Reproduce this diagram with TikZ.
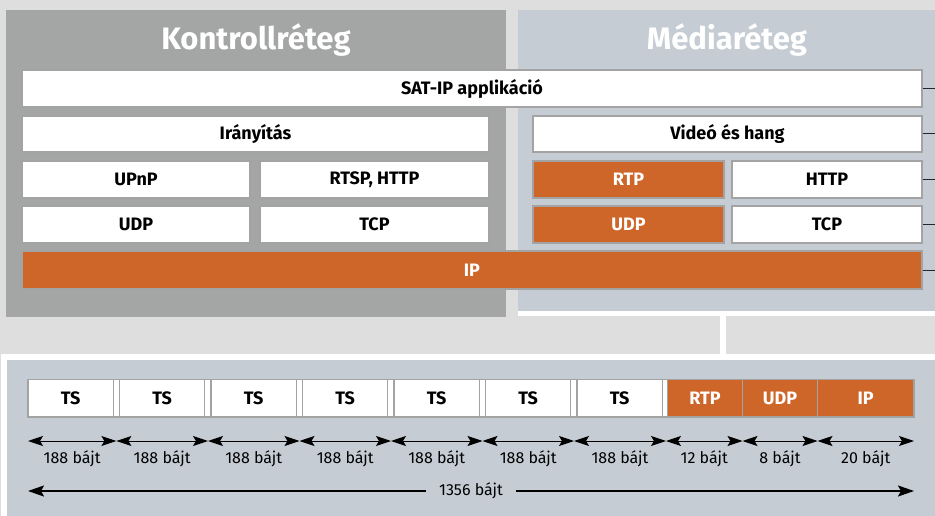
\documentclass[tikz,border=0pt]{standalone}
\usepackage{fontspec}
\setmainfont{Fira Sans}
\usetikzlibrary{arrows.meta}
\definecolor{bgc}{HTML}{DEDEDE}
\definecolor{ctrl}{HTML}{A4A6A5}
\definecolor{media}{HTML}{C5CCD4}
\definecolor{orng}{HTML}{CD6628}
\definecolor{bord}{HTML}{A3A3A3}
\begin{document}
\begin{tikzpicture}[x=1pt,y=-1pt,
  box/.style={draw=bord, line width=1.3pt, fill=white, inner sep=0pt,
    font=\fontsize{18}{20}\selectfont\bfseries, text=black},
  obox/.style={box, fill=orng, text=white},
  title/.style={font=\fontsize{31}{34}\selectfont\bfseries, text=white, inner sep=0pt},
  lbl/.style={font=\fontsize{16}{18}\selectfont, text=black, inner sep=0pt},
  conn/.style={draw=black!85, line width=1pt},
  darr/.style={line width=1pt, {Stealth[length=15pt,width=10pt,inset=3pt]}-{Stealth[length=15pt,width=10pt,inset=3pt]}},
  larr/.style={line width=2pt, -{Stealth[length=16pt,width=11pt,inset=3pt]}}
]
\useasboundingbox (0,0) rectangle (935,516);
% panels
\fill[bgc] (0,0) rectangle (935,516);
\fill[ctrl] (6,10) rectangle (506,317);
\fill[media] (518,10) rectangle (935,311);
\fill[white] (518,311) rectangle (935,316);
\fill[white] (720,311) rectangle (726,354);
\fill[white] (1,354) rectangle (935,516);
\fill[media] (7,360) rectangle (935,516);
% titles
\node[title, anchor=base] (kt) at (256,50) {Kontrollréteg};
\node[title, anchor=base] (mt) at (727,50) {Médiaréteg};
% upper boxes
\node[box, minimum width=900pt, minimum height=37pt] (sat) at (472,88.5) {SAT-IP applikáció};
\node[box, minimum width=467pt, minimum height=36pt] (iran) at (255.5,134) {Irányítás};
\node[box, minimum width=389pt, minimum height=36pt] (video) at (727.5,134) {Videó és hang};
\node[box, minimum width=228pt, minimum height=37pt] (upnp) at (136,179.5) {UPnP};
\node[box, minimum width=229pt, minimum height=37pt] (rtsp) at (374.5,179.5) {RTSP, HTTP};
\node[obox, minimum width=191pt, minimum height=37pt] (rtp) at (628.5,179.5) {RTP};
\node[box, minimum width=190pt, minimum height=37pt] (http) at (827,179.5) {HTTP};
\node[box, minimum width=228pt, minimum height=37pt] (udpl) at (136,224.5) {UDP};
\node[box, minimum width=229pt, minimum height=37pt] (tcpl) at (374.5,224.5) {TCP};
\node[obox, minimum width=191pt, minimum height=37pt] (udpr) at (628.5,224.5) {UDP};
\node[box, minimum width=190pt, minimum height=37pt] (tcpr) at (827,224.5) {TCP};
\node[obox, minimum width=900pt, minimum height=38pt] (ip) at (472,270) {IP};
% right connectors
\coordinate (e1) at (935,88.5);
\coordinate (e2) at (935,134);
\coordinate (e3) at (935,179.5);
\coordinate (e4) at (935,224.5);
\coordinate (e5) at (935,270);
\draw[conn] (sat.east) -- (e1);
\draw[conn] (video.east) -- (e2);
\draw[conn] (http.east) -- (e3);
\draw[conn] (tcpr.east) -- (e4);
\draw[conn] (ip.east) -- (e5);
% packet
\draw[draw=bord, fill=white, line width=1.3pt] (28,379.5) rectangle (667.5,417);
\foreach \i in {0,...,6}
  \node[box, minimum width=85.3pt, minimum height=37.5pt] (ts\i) at ({70.65+91.5*\i},398.25) {TS};
\node[obox, minimum width=75pt, minimum height=37.5pt] (prtp) at (705,398.25) {RTP};
\node[obox, minimum width=75pt, minimum height=37.5pt] (pudp) at (780,398.25) {UDP};
\node[obox, minimum width=96.5pt, minimum height=37.5pt] (pip) at (865.75,398.25) {IP};
% byte arrows
\foreach \n/\x in {0/28,1/116.4,2/208,3/299.5,4/391,5/482.5,6/574,7/666,8/742.5,9/817.5,10/914}
  \coordinate (b\n) at (\x,441);
\foreach \a/\b/\t in {0/1/188 bájt,1/2/188 bájt,2/3/188 bájt,3/4/188 bájt,4/5/188 bájt,5/6/188 bájt,6/7/188 bájt,7/8/12 bájt,8/9/8 bájt,9/10/20 bájt}{
  \draw[darr] (b\a) -- (b\b);
  \path (b\a) -- (b\b) node[midway, yshift=-22pt, anchor=base, lbl] (l\a) {\t};
}
% total
\node[lbl, fill=media, inner xsep=13pt, inner ysep=2pt] (tot) at (471,491) {1356 bájt};
\coordinate (t0) at (28,491);
\coordinate (t1) at (914,491);
\draw[larr] (tot.west) -- (t0);
\draw[larr] (tot.east) -- (t1);
\end{tikzpicture}
\end{document}
